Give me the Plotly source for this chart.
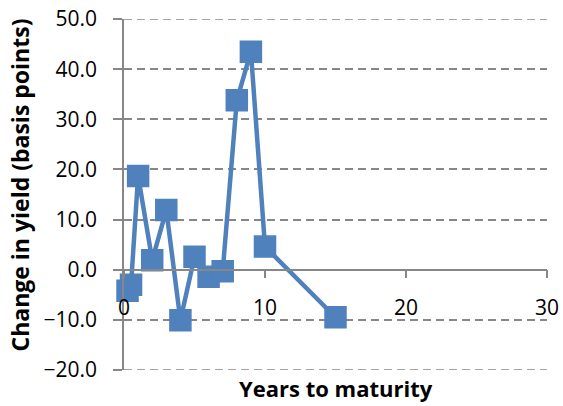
import plotly.graph_objects as go

# Change in yield by years to maturity
years = [0.25, 0.5, 1, 2, 3, 4, 5, 6, 7, 8, 9, 10, 15]
change_bp = [-4.2, -3.0, 18.7, 1.9, 11.9, -10.1, 2.6, -1.4, -0.3, 33.8, 43.5, 4.6, -9.5]

x_ticks = [0, 10, 20, 30]
y_ticks = [-20, -10, 0, 10, 20, 30, 40, 50]

BLUE = "#4F81BD"
GRID = "#878787"
FONT = "Open Sans"

fig = go.Figure(
    go.Scatter(
        x=years,
        y=change_bp,
        mode="lines+markers",
        line=dict(color=BLUE, width=4.5),
        marker=dict(symbol="square", size=21, color=BLUE,
                    line=dict(color=BLUE, width=1.5)),
        cliponaxis=False,
        showlegend=False,
    )
)

# dashed gridlines at the two ends of the value range
for yv in (y_ticks[0], y_ticks[-1]):
    fig.add_shape(
        type="line", xref="paper", yref="y",
        x0=0, x1=1, y0=yv, y1=yv,
        line=dict(color=GRID, width=1.5, dash="8px,5px"),
        layer="below",
    )

fig.update_layout(
    width=563,
    height=406,
    margin=dict(l=124, r=16, t=19, b=36),
    paper_bgcolor="white",
    plot_bgcolor="white",
    font=dict(family=FONT, color="black"),
    xaxis=dict(
        range=[0, 30],
        tickvals=x_ticks,
        anchor="free",
        position=20.02 / 70.04,  # x axis crosses at y = 0
        showline=True,
        linecolor=GRID,
        linewidth=1.5,
        ticks="outside",
        ticklen=8,
        tickwidth=1.5,
        tickcolor=GRID,
        showgrid=False,
        zeroline=False,
        automargin=False,
        tickfont=dict(size=21, family=FONT),
        ticklabelstandoff=11,
    ),
    yaxis=dict(
        range=[-20.02, 50.02],
        domain=[0, 1],
        tickvals=y_ticks,
        tickformat=".1f",
        showline=True,
        linecolor=GRID,
        linewidth=1.5,
        ticks="outside",
        ticklen=9,
        tickwidth=1.5,
        tickcolor=GRID,
        showgrid=True,
        gridcolor=GRID,
        gridwidth=1.5,
        griddash="8px,5px",
        zeroline=False,
        automargin=False,
        tickfont=dict(size=21, family=FONT),
        ticklabelstandoff=12,
    ),
    annotations=[
        dict(
            text="<b>Years to maturity</b>",
            xref="paper", yref="paper",
            x=0.5, y=0,
            xanchor="center", yanchor="middle",
            yshift=-18,
            showarrow=False,
            font=dict(size=22, family=FONT),
        ),
        dict(
            text="<b>Change in yield (basis points)</b>",
            xref="paper", yref="paper",
            x=0, y=0.5,
            xanchor="center", yanchor="middle",
            xshift=-105, yshift=9,
            textangle=-90,
            showarrow=False,
            font=dict(size=23, family=FONT),
        ),
    ],
)

fig.write_html("out.html")
